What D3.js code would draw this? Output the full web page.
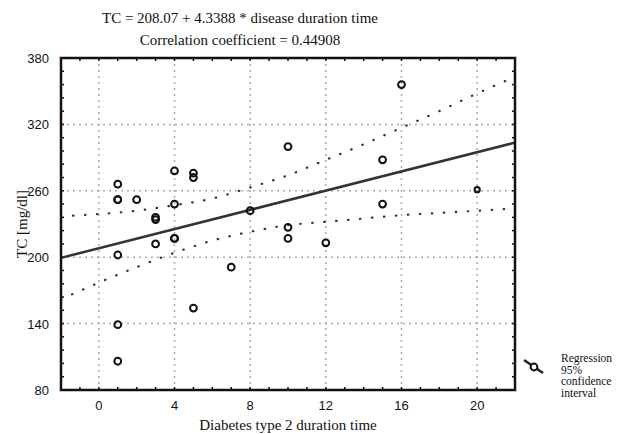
<!DOCTYPE html>
<html>
<head>
  <meta charset="utf-8">
  <title>TC vs diabetes duration</title>
  <style>
    body { margin: 0; background: #fff; }
    svg text { fill: #111; }
  </style>
</head>
<body>
  <svg width="620" height="434"></svg>
  <script src="https://d3js.org/d3.v7.min.js"></script>
  <script>
  var durations = [1, 1, 1, 1, 1, 1, 2, 3, 3, 3, 4, 4, 4, 4, 5, 5, 5, 7, 8, 10, 10, 10, 12, 15, 15, 16, 20];
  var tcValues  = [266, 252, 202, 139, 106, 252, 252, 236, 234, 212, 278, 248, 217, 217, 276, 272, 154, 191, 242, 300, 227, 217, 213, 288, 248, 356, 261];

  // regression from the title
  var intercept = 208.07;
  var slope = 4.3388;

  // 95% confidence band
  var bandX     = [-2, 0, 2, 4, 6, 8, 10, 12, 14, 16, 18, 20, 22];
  var bandUpper = [237, 239, 242, 247, 253, 263, 274, 288, 302, 317, 332, 348, 363];
  var bandLower = [162, 177, 191, 204, 215, 223, 229, 232, 235, 238, 240, 242, 244];

  var xTicks = [0, 4, 8, 12, 16, 20];
  var yTicks = [80, 140, 200, 260, 320, 380];

  var svg = d3.select('svg');
  var pL = 61, pR = 515, pT = 58, pB = 390;

  var x = d3.scaleLinear().domain([-2, 22]).range([pL, pR]);
  var y = d3.scaleLinear().domain([80, 380]).range([pB, pT]);

  var sans = '"Liberation Sans", Arial, sans-serif';
  var serif = '"Liberation Serif", "Times New Roman", serif';

  // grid
  svg.append('g')
    .selectAll('line')
    .data(xTicks)
    .enter().append('line')
    .attr('x1', function(d) { return x(d); })
    .attr('x2', function(d) { return x(d); })
    .attr('y1', pT).attr('y2', pB)
    .attr('stroke', '#aaa').attr('stroke-width', 1.5)
    .attr('stroke-dasharray', '2,4');

  svg.append('g')
    .selectAll('line')
    .data(yTicks.slice(1, -1))
    .enter().append('line')
    .attr('y1', function(d) { return y(d); })
    .attr('y2', function(d) { return y(d); })
    .attr('x1', pL).attr('x2', pR)
    .attr('stroke', '#aaa').attr('stroke-width', 1.5)
    .attr('stroke-dasharray', '2,4');

  // minor ticks (inside the frame)
  var xMinor = d3.range(-2, 23, 1);
  var yMinor = d3.range(80, 381, 12);
  var tk = svg.append('g').attr('stroke', '#111').attr('stroke-width', 1.5);
  xMinor.forEach(function(v) {
    tk.append('line').attr('x1', x(v)).attr('x2', x(v)).attr('y1', pB).attr('y2', pB - 3);
    tk.append('line').attr('x1', x(v)).attr('x2', x(v)).attr('y1', pT).attr('y2', pT + 3);
  });
  yMinor.forEach(function(v) {
    tk.append('line').attr('y1', y(v)).attr('y2', y(v)).attr('x1', pL).attr('x2', pL + 3);
    tk.append('line').attr('y1', y(v)).attr('y2', y(v)).attr('x1', pR).attr('x2', pR - 3);
  });

  // confidence band
  var band = d3.line()
    .x(function(d) { return x(d[0]); })
    .y(function(d) { return y(d[1]); })
    .curve(d3.curveMonotoneX);

  [bandUpper, bandLower].forEach(function(arr) {
    svg.append('path')
      .attr('d', band(bandX.map(function(v, i) { return [v, arr[i]]; })))
      .attr('fill', 'none')
      .attr('stroke', '#333')
      .attr('stroke-width', 2.2)
      .attr('stroke-linecap', 'round')
      .attr('stroke-dasharray', '0.5,11.5');
  });

  // regression line
  svg.append('line')
    .attr('x1', x(-2)).attr('y1', y(intercept + slope * -2))
    .attr('x2', x(22)).attr('y2', y(intercept + slope * 22))
    .attr('stroke', '#333').attr('stroke-width', 2.5);

  // points
  svg.append('g')
    .selectAll('circle')
    .data(durations)
    .enter().append('circle')
    .attr('cx', function(d) { return x(d); })
    .attr('cy', function(d, i) { return y(tcValues[i]); })
    .attr('r', function(d) { return d === 20 ? 2.6 : 3.4; })
    .attr('fill', 'none')
    .attr('stroke', '#111')
    .attr('stroke-width', 2);

  // frame
  svg.append('rect')
    .attr('x', pL).attr('y', pT)
    .attr('width', pR - pL).attr('height', pB - pT)
    .attr('fill', 'none').attr('stroke', '#111').attr('stroke-width', 2.5);

  // tick labels
  svg.append('g')
    .selectAll('text')
    .data(xTicks)
    .enter().append('text')
    .attr('x', function(d) { return x(d); })
    .attr('y', pB + 20)
    .attr('text-anchor', 'middle')
    .attr('font-family', sans).attr('font-size', 13)
    .text(function(d) { return d; });

  svg.append('g')
    .selectAll('text')
    .data(yTicks)
    .enter().append('text')
    .attr('x', pL - 12)
    .attr('y', function(d) { return y(d) + 5; })
    .attr('text-anchor', 'end')
    .attr('font-family', sans).attr('font-size', 13)
    .text(function(d) { return d; });

  // titles
  svg.append('text')
    .attr('x', 240).attr('y', 23)
    .attr('text-anchor', 'middle')
    .attr('font-family', serif).attr('font-size', 15)
    .text('TC = 208.07 + 4.3388 * disease duration time');
  svg.append('text')
    .attr('x', 240).attr('y', 45)
    .attr('text-anchor', 'middle')
    .attr('font-family', serif).attr('font-size', 15)
    .text('Correlation coefficient = 0.44908');

  svg.append('text')
    .attr('x', 288).attr('y', 430)
    .attr('text-anchor', 'middle')
    .attr('font-family', serif).attr('font-size', 15)
    .text('Diabetes type 2 duration time');

  svg.append('text')
    .attr('transform', 'translate(27,' + ((pT + pB) / 2) + ') rotate(-90)')
    .attr('text-anchor', 'middle')
    .attr('font-family', serif).attr('font-size', 15)
    .text('TC [mg/dl]');

  // legend
  var lg = svg.append('g');
  lg.append('line')
    .attr('x1', 524).attr('y1', 360).attr('x2', 543).attr('y2', 373)
    .attr('stroke', '#222').attr('stroke-width', 2.5);
  lg.append('circle')
    .attr('cx', 534).attr('cy', 367).attr('r', 3.4)
    .attr('fill', '#fff').attr('stroke', '#111').attr('stroke-width', 2);
  ['Regression', '95%', 'confidence', 'interval'].forEach(function(t, i) {
    lg.append('text')
      .attr('x', 561).attr('y', 362 + i * 11.5)
      .attr('font-family', serif).attr('font-size', 11.5)
      .text(t);
  });
  </script>
</body>
</html>
